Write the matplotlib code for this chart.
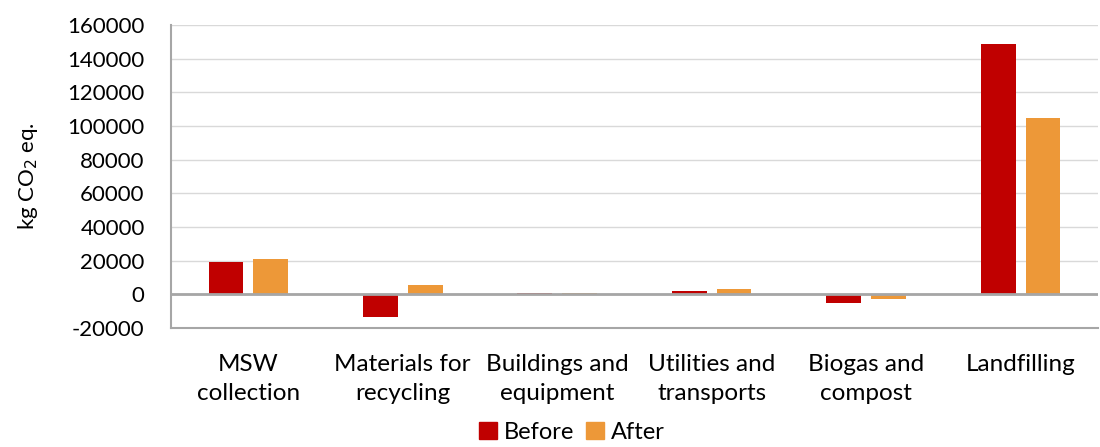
import matplotlib
matplotlib.use("Agg")
import matplotlib.pyplot as plt
import numpy as np
from matplotlib.patches import Patch

categories = ["MSW\ncollection", "Materials for\nrecycling", "Buildings and\nequipment",
              "Utilities and\ntransports", "Biogas and\ncompost", "Landfilling"]
before = [19000, -13600, 1000, 1800, -5200, 149000]
after = [20800, 5500, 600, 3000, -3000, 104600]
series_names = ["Before", "After"]
colors = ["#C00000", "#ED9838"]
yticks = list(range(-20000, 160001, 20000))

plt.rcParams['font.family'] = ['Lato', 'DejaVu Sans']
fig = plt.figure(figsize=(11, 4.47), dpi=100)
ax = fig.add_axes([0.1555, 0.266, 0.8425, 0.678])

x = np.arange(len(categories))
w = 0.225
off = 0.145
ax.bar(x - off, before, w, color=colors[0], zorder=3)
ax.bar(x + off, after, w, color=colors[1], zorder=3)

ax.set_xlim(-0.5, len(categories) - 0.5)
ax.set_ylim(-20000, 160000)
ax.set_yticks(yticks)
ax.set_yticklabels([str(t) for t in yticks], fontsize=16)
ax.set_xticks(x)
ax.set_xticklabels(categories, fontsize=17.5, linespacing=1.45)
ax.tick_params(axis='x', length=0, pad=19)
ax.tick_params(axis='y', length=0, pad=19)
ax.grid(axis='y', color='#D9D9D9', linewidth=1, zorder=0)
ax.axhline(0, color='#A6A6A6', linewidth=2, zorder=4)
for s in ['top', 'right']:
    ax.spines[s].set_visible(False)
for s in ['left', 'bottom']:
    ax.spines[s].set_color('#A6A6A6')
    ax.spines[s].set_linewidth(1.5)

ax.set_ylabel("kg CO$_2$ eq.", fontsize=16, labelpad=20)

handles = [Patch(color=colors[0]), Patch(color=colors[1])]
fig.legend(handles, series_names, loc='lower center', bbox_to_anchor=(0.52, -0.038),
           ncol=2, frameon=False, fontsize=17, handlelength=0.75, handleheight=0.75,
           handletextpad=0.3, columnspacing=0.5)

fig.savefig("out.png", dpi=100)
